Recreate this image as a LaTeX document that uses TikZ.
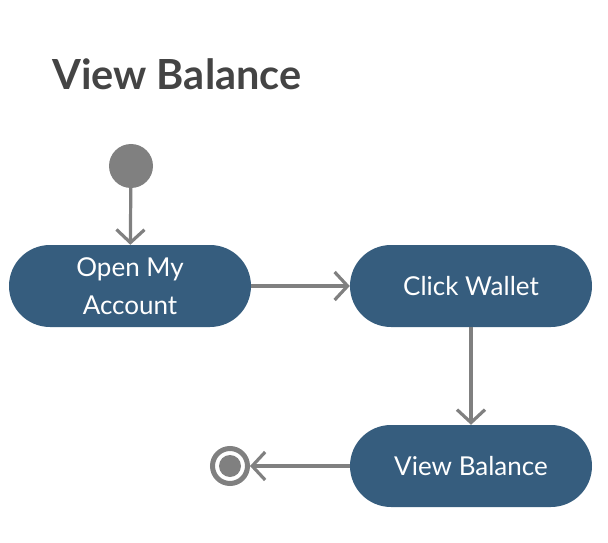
\documentclass[tikz,border=0pt]{standalone}
\usepackage{fontspec}
\setmainfont{Lato}
\usetikzlibrary{arrows.meta}
\definecolor{actblue}{RGB}{54,93,126}
\definecolor{linegray}{RGB}{128,128,128}
\definecolor{titlegray}{RGB}{68,68,68}
\newcommand{\lowertext}[1]{\raisebox{-2.5pt}{#1}}
\begin{document}
\begin{tikzpicture}[x=1pt,y=1pt,
  act/.style={fill=actblue, rounded corners=41pt, minimum width=242pt, minimum height=82pt, inner sep=0pt, text=white, font=\fontsize{26}{38.5}\selectfont, align=center},
  flow/.style={draw=linegray, line width=3.2pt, -{Straight Barb[length=13pt,width=28pt,line width=3.2pt]}},
]
\useasboundingbox (0,0) rectangle (608,542);
\node[anchor=base west, text=titlegray, font=\fontsize{41.5}{48}\selectfont\bfseries, inner sep=0pt] (title) at (52,452) {View Balance};
\node[circle, fill=linegray, minimum size=44pt, inner sep=0pt] (start) at (131,376) {};
\node[act] (open) at (130,256) {Open My\\Account};
\node[act] (click) at (471,256) {\lowertext{Click Wallet}};
\node[act] (view) at (471,76) {\lowertext{View Balance}};
\node[circle, draw=linegray, line width=5pt, minimum size=35pt, inner sep=0pt] (final) at (230,76) {};
\node[circle, fill=linegray, minimum size=22pt, inner sep=0pt] (finaldot) at (230,76) {};
\draw[flow] (start) -- (open);
\draw[flow] (open) -- (click);
\draw[flow] (click) -- (view);
\draw[flow] (view) -- (final);
\end{tikzpicture}
\end{document}
